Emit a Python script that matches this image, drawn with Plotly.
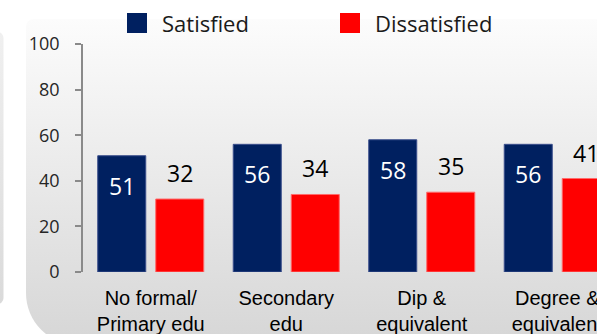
import base64
import plotly.graph_objects as go

categories = ["No formal/<br>Primary edu", "Secondary<br>edu", "Dip &<br>equivalent", "Degree &<br>equivalent"]
satisfied = [51, 56, 58, 56]
dissatisfied = [32, 34, 35, 41]
series_names = ["Satisfied", "Dissatisfied"]
y_ticks = [0, 20, 40, 60, 80, 100]

NAVY = "#002060"
RED = "#FF0000"

W, H = 597, 334
ML, MR, MT, MB = 83, 0, 44, 62
PW, PH = W - ML - MR, H - MT - MB
CAT_PX = 135.5
x_end = -0.5 + PW / CAT_PX

# background panel as an SVG image (gradient + rounded corner)
svg = f'''<svg xmlns="http://www.w3.org/2000/svg" width="{W}" height="{H}" viewBox="0 0 {W} {H}">
<defs><linearGradient id="g" x1="0" y1="0" x2="0" y2="1">
<stop offset="0" stop-color="#fcfcfc"/><stop offset="1" stop-color="#d6d6d6"/></linearGradient>
<linearGradient id="g2" x1="0" y1="0" x2="0" y2="1">
<stop offset="0" stop-color="#f0f0f0"/><stop offset="1" stop-color="#dadada"/></linearGradient></defs>
<path d="M34,19 H660 V345 H78 A52,52 0 0 1 26,293 V27 A8,8 0 0 1 34,19 Z" fill="url(#g)"/>
<rect x="-20" y="32" width="23.5" height="272" rx="6" fill="url(#g2)"/>
</svg>'''
src = "data:image/svg+xml;base64," + base64.b64encode(svg.encode()).decode()

fig = go.Figure()
fig.add_trace(go.Bar(x=categories, y=satisfied, name=series_names[0],
                     marker=dict(color=NAVY, line=dict(color="#3b4f8c", width=1)),
                     showlegend=False))
fig.add_trace(go.Bar(x=categories, y=dissatisfied, name=series_names[1],
                     marker=dict(color=RED, line=dict(color="#ff6a6a", width=1)),
                     showlegend=False))

annotations = []
for c, v in zip(categories, satisfied):
    annotations.append(dict(x=c, y=v, xref="x", yref="y", text=str(v), showarrow=False,
                            xshift=-29, yshift=-30, yanchor="middle",
                            font=dict(family="Open Sans", size=23, color="white")))
for c, v in zip(categories, dissatisfied):
    annotations.append(dict(x=c, y=v, xref="x", yref="y", text=str(v), showarrow=False,
                            xshift=29, yshift=26, yanchor="middle",
                            font=dict(family="Open Sans", size=23, color="black")))

# legend (manual, to match large square keys)
def px_x(p):
    return (p - ML) / PW

def px_y(p):
    return (H - MB - p) / PH

shapes = []
legend_items = [(series_names[0], NAVY, 127, 160), (series_names[1], RED, 340, 373)]
for name, col, sx, tx in legend_items:
    shapes.append(dict(type="rect", xref="paper", yref="paper",
                       x0=px_x(sx), x1=px_x(sx + 20), y0=px_y(33), y1=px_y(13),
                       fillcolor=col, line=dict(width=0)))
    annotations.append(dict(x=px_x(tx), y=px_y(23), xref="paper", yref="paper",
                            text=name, showarrow=False, xanchor="left", yanchor="middle",
                            font=dict(family="Open Sans", size=22, color="#1a1a1a")))

fig.update_layout(
    width=W, height=H,
    margin=dict(l=ML, r=MR, t=MT, b=MB, pad=0, autoexpand=False),
    paper_bgcolor="white", plot_bgcolor="rgba(0,0,0,0)",
    barmode="group", bargap=0.144, bargroupgap=0.172,
    showlegend=False,
    images=[dict(source=src, xref="paper", yref="paper",
                 x=-ML / PW, y=1 + MT / PH, sizex=W / PW, sizey=H / PH,
                 sizing="stretch", layer="below", xanchor="left", yanchor="top")],
    shapes=shapes,
    annotations=annotations,
    xaxis=dict(type="category", range=[-0.5, x_end], showgrid=False, zeroline=False,
               showline=False, ticks="", ticklabelstandoff=12, automargin=False,
               tickfont=dict(family="Liberation Sans", size=20, color="black")),
    yaxis=dict(range=[0, 100], tickvals=y_ticks, showgrid=False, zeroline=False,
               showline=True, linecolor="#8a8a8a", linewidth=1.5,
               ticks="outside", ticklen=6, tickcolor="#8a8a8a", tickwidth=1.5,
               ticklabelstandoff=12, automargin=False,
               tickfont=dict(family="Open Sans", size=18, color="#262626")),
)

post = (
    "var s=document.documentElement.style;s.margin='0';s.padding='0';s.overflow='hidden';"
    "var b=document.body.style;b.margin='0';b.padding='0';b.overflow='hidden';"
)
fig.write_html("out.html", config={"displayModeBar": False}, post_script=post)
